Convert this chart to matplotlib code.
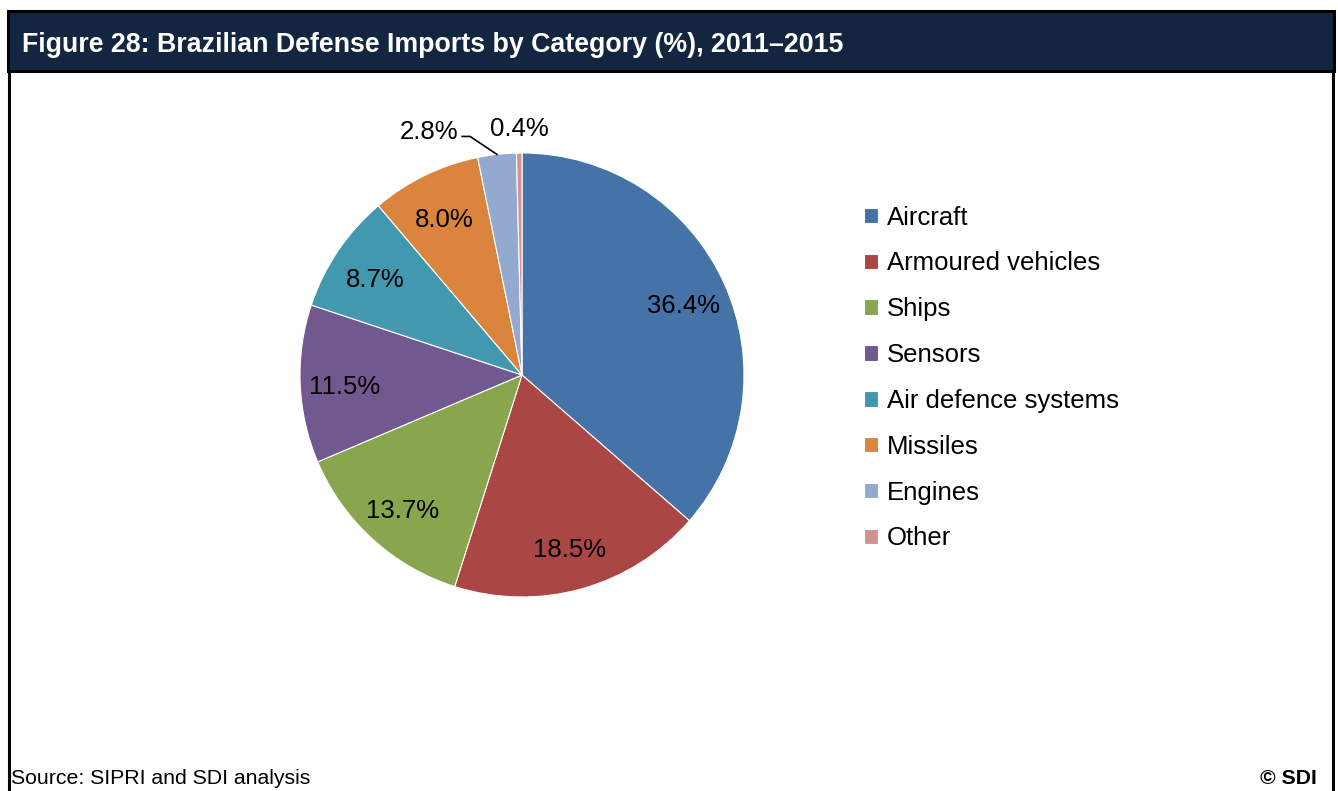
import numpy as np
import matplotlib.pyplot as plt
from matplotlib.patches import Rectangle
from matplotlib.lines import Line2D

plt.rcParams['font.family'] = ['Liberation Sans', 'DejaVu Sans']

# Import shares by category, 2011-2015 (%)
categories = ['Aircraft', 'Armoured vehicles', 'Ships', 'Sensors',
              'Air defence systems', 'Missiles', 'Engines', 'Other']
shares = [36.4, 18.5, 13.7, 11.5, 8.7, 8.0, 2.8, 0.4]
colors = ['#4572A7', '#AA4643', '#89A54E', '#71588F',
          '#4198AF', '#DB843D', '#93A9CF', '#D19392']

W, H = 1338, 791
fig = plt.figure(figsize=(W / 100, H / 100), dpi=100)

# header bar and frame
fig.patches.append(Rectangle((8 / W, 1 - 71 / H), 1326 / W, 60 / H,
                             transform=fig.transFigure, facecolor='#13253F',
                             edgecolor='black', linewidth=2.2))
fig.lines.append(Line2D([9 / W, 9 / W], [0, 1 - 71 / H], transform=fig.transFigure,
                        color='black', linewidth=2.2))
fig.lines.append(Line2D([1333 / W, 1333 / W], [0, 1 - 71 / H], transform=fig.transFigure,
                        color='black', linewidth=2.2))
fig.text(22 / W, 1 - 45 / H, 'Figure 28: Brazilian Defense Imports by Category (%), 2011\u20132015',
         color='white', fontsize=19.3, fontweight='bold', va='center', ha='left')
fig.text(11 / W, 1 - 779 / H, 'Source: SIPRI and SDI analysis', fontsize=15.3,
         va='center', ha='left')
fig.text(1317 / W, 1 - 779 / H, '\u00a9 SDI', fontsize=15.3, fontweight='bold',
         va='center', ha='right')

# pie: radius 222 px centred at (522, 375)
R = 222
half = 300
ax = fig.add_axes([(522 - half) / W, 1 - (375 + half) / H, 2 * half / W, 2 * half / H])
wedges, _ = ax.pie(shares, colors=colors, startangle=90, counterclock=False,
                   wedgeprops=dict(edgecolor='white', linewidth=0.8))
lim = half / R
ax.set_xlim(-lim, lim)
ax.set_ylim(-lim, lim)
ax.set_aspect('equal')
ax.axis('off')

fs = 18.5
for w, v in zip(wedges, shares):
    mid = np.deg2rad((w.theta1 + w.theta2) / 2)
    label = f'{v:.1f}%'
    if v >= 5:
        ax.text(0.8 * np.cos(mid), 0.8 * np.sin(mid) - 0.02, label, fontsize=fs,
                ha='center', va='center')
    elif v >= 1:
        # leader line from the wedge edge to a label on the left
        ex, ey = np.cos(mid), np.sin(mid)
        tx, ty = ex - 0.157, ey + 0.081
        ax.plot([ex, tx + 0.036, tx], [ey, ty, ty], color='black', linewidth=1.2)
        ax.text(tx - 0.018, ty + 0.02, label, fontsize=fs, ha='right', va='center')
    else:
        ax.text(1.117 * np.cos(mid), 1.117 * np.sin(mid) - 0.01, label, fontsize=fs,
                ha='center', va='center')

fig.legend(wedges, categories, loc='center left', bbox_to_anchor=(864 / W, 1 - 378 / H),
           frameon=False, fontsize=fs, handlelength=0.55, handleheight=0.55,
           handletextpad=0.35, labelspacing=0.85, borderpad=0, borderaxespad=0)

fig.savefig('out.png', dpi=100)
